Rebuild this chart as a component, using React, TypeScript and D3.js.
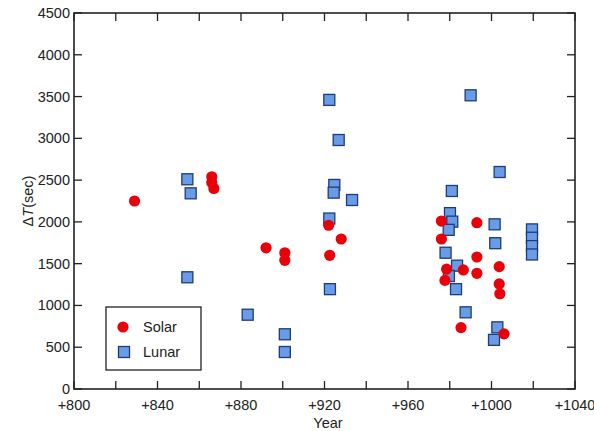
import React, { useEffect, useRef } from "react";
import * as d3 from "d3";

// Solar eclipse points: [year, deltaT]
const solarYears = [829, 866, 866, 867, 892, 901, 901, 922, 922.5, 928, 976, 993, 976, 993, 978.5, 986.5, 993, 977.7, 1003.7, 1003.7, 1004, 985.4, 1006];
const solarDT = [2250, 2540, 2470, 2400, 1690, 1630, 1540, 1960, 1600, 1795, 2010, 1990, 1795, 1580, 1435, 1425, 1385, 1300, 1465, 1257, 1140, 735, 660];

// Lunar eclipse points
const lunarYears = [854.3, 855.9, 854.3, 883.2, 901, 901, 922.3, 926.8, 924.7, 924.4, 933.2, 922.3, 922.6, 990, 1003.9, 981, 980.1, 981.2, 979.5, 1001.5, 1001.8, 1019.4, 1019.4, 1019.4, 1019.4, 978, 983.5, 979.6, 983, 987.6, 1002.8, 1001.2];
const lunarDT = [2510, 2342, 1337, 889, 655, 443, 3460, 2980, 2442, 2350, 2262, 2040, 1195, 3515, 2597, 2370, 2105, 2003, 1905, 1971, 1745, 1910, 1810, 1710, 1610, 1631, 1476, 1352, 1195, 918, 738, 588];

const xTicks = [800, 840, 880, 920, 960, 1000, 1040];
const yTicks = [0, 500, 1000, 1500, 2000, 2500, 3000, 3500, 4000, 4500];

export default function App() {
  const ref = useRef<SVGSVGElement>(null);

  useEffect(() => {
    const svg = d3.select(ref.current);
    svg.selectAll("*").remove();

    const left = 74, right = 575, top = 13, bottom = 389;
    const x = d3.scaleLinear().domain([800, 1040]).range([left, right]);
    const y = d3.scaleLinear().domain([0, 4500]).range([bottom, top]);
    const font = "'Liberation Sans', Arial, sans-serif";
    const ink = "#222";
    const fs = 14.5;

    // ticks on all four sides, pointing inward
    const minorX = d3.range(800, 1041, 20);
    const g = svg.append("g").attr("stroke", ink).attr("stroke-width", 1.3);
    minorX.forEach((v) => {
      g.append("line").attr("x1", x(v)).attr("x2", x(v)).attr("y1", bottom).attr("y2", bottom - 8);
      g.append("line").attr("x1", x(v)).attr("x2", x(v)).attr("y1", top).attr("y2", top + 8);
    });
    yTicks.forEach((v) => {
      g.append("line").attr("x1", left).attr("x2", left + 8).attr("y1", y(v)).attr("y2", y(v));
      g.append("line").attr("x1", right).attr("x2", right - 8).attr("y1", y(v)).attr("y2", y(v));
    });

    svg.append("rect")
      .attr("x", left).attr("y", top)
      .attr("width", right - left).attr("height", bottom - top)
      .attr("fill", "none").attr("stroke", ink).attr("stroke-width", 1.6);

    // tick labels
    svg.append("g").selectAll("text").data(xTicks).join("text")
      .attr("x", (d) => x(d)).attr("y", bottom + 21)
      .attr("text-anchor", "middle").attr("font-family", font).attr("font-size", fs).attr("fill", ink)
      .text((d) => "+" + d);
    svg.append("g").selectAll("text").data(yTicks).join("text")
      .attr("x", left - 4).attr("y", (d) => y(d) + 5)
      .attr("text-anchor", "end").attr("font-family", font).attr("font-size", fs).attr("fill", ink)
      .text((d) => d);

    svg.append("text")
      .attr("x", 328).attr("y", 428)
      .attr("text-anchor", "middle").attr("font-family", font).attr("font-size", fs).attr("fill", ink)
      .text("Year");

    const yl = svg.append("text")
      .attr("transform", `translate(33,${(top + bottom) / 2}) rotate(-90)`)
      .attr("text-anchor", "middle").attr("font-family", font).attr("font-size", fs).attr("fill", ink);
    yl.append("tspan").text("\u0394");
    yl.append("tspan").attr("font-style", "italic").text("T");
    yl.append("tspan").text("(sec)");

    // lunar squares
    const s = 11;
    svg.append("g").selectAll("rect").data(lunarYears).join("rect")
      .attr("x", (d) => x(d) - s / 2)
      .attr("y", (d, i) => y(lunarDT[i]) - s / 2)
      .attr("width", s).attr("height", s)
      .attr("fill", "#6a9be6").attr("stroke", "#1d3c78").attr("stroke-width", 1.3);

    // solar circles
    svg.append("g").selectAll("circle").data(solarYears).join("circle")
      .attr("cx", (d) => x(d))
      .attr("cy", (d, i) => y(solarDT[i]))
      .attr("r", 5.6)
      .attr("fill", "#e8000b");

    // legend
    const lg = svg.append("g");
    lg.append("rect").attr("x", 106).attr("y", 307).attr("width", 95).attr("height", 63)
      .attr("fill", "white").attr("stroke", ink).attr("stroke-width", 1.3);
    lg.append("circle").attr("cx", 123).attr("cy", 327).attr("r", 5.6).attr("fill", "#e8000b");
    lg.append("rect").attr("x", 124 - s / 2).attr("y", 352 - s / 2).attr("width", s).attr("height", s)
      .attr("fill", "#6a9be6").attr("stroke", "#1d3c78").attr("stroke-width", 1.3);
    lg.append("text").attr("x", 143).attr("y", 332).attr("font-family", font).attr("font-size", fs).attr("fill", ink).text("Solar");
    lg.append("text").attr("x", 143).attr("y", 357).attr("font-family", font).attr("font-size", fs).attr("fill", ink).text("Lunar");
  }, []);

  return (
    <svg ref={ref} width={594} height={431}
      style={{ position: "absolute", left: 0, top: 0, background: "white" }} />
  );
}
